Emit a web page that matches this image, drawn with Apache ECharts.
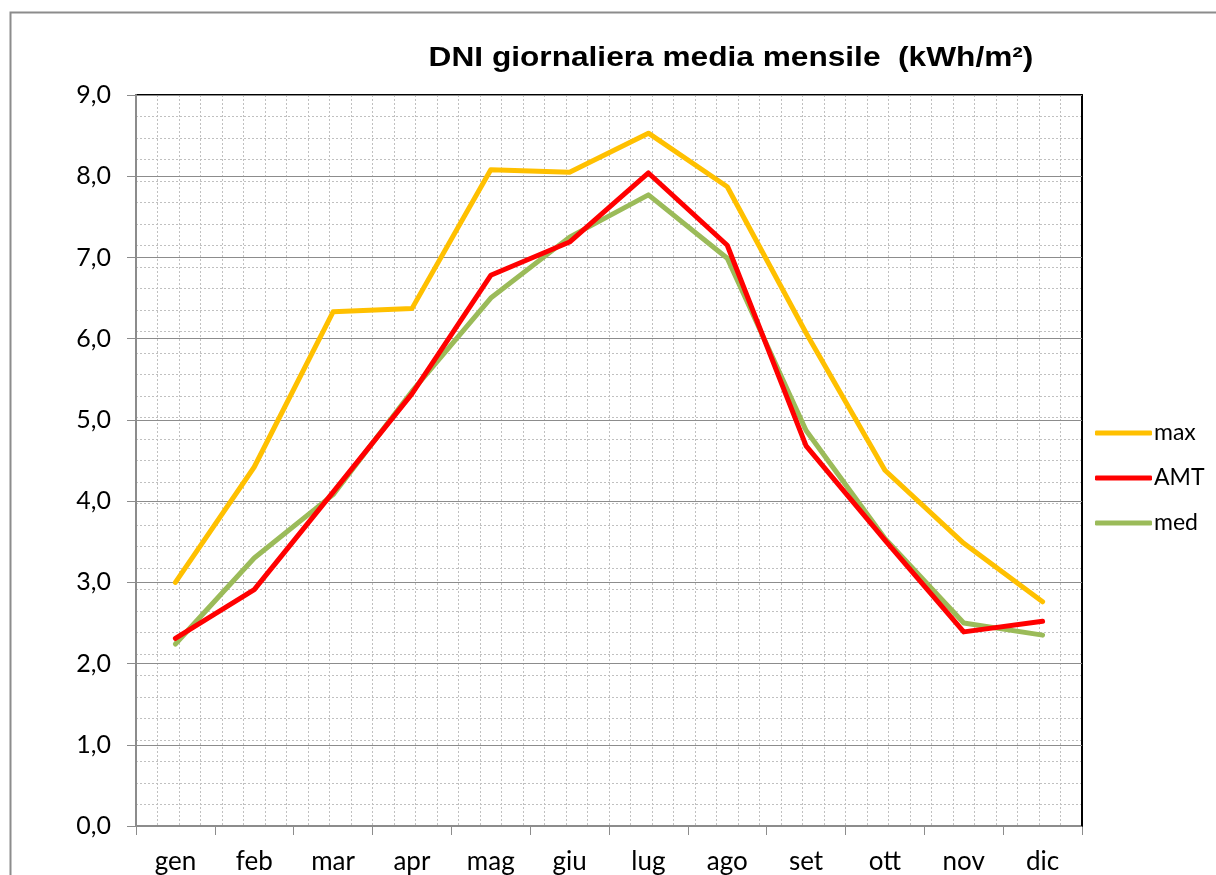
<!DOCTYPE html>
<html>
<head>
<meta charset="utf-8">
<script src="https://cdn.jsdelivr.net/npm/echarts@6/dist/echarts.min.js"></script>
<style>
  html, body { margin: 0; padding: 0; background: #fff; }
  #chart { width: 1216px; height: 875px; }
</style>
</head>
<body>
<div id="chart"></div>
<script>
// Months (Italian abbreviations)
const months = ['gen', 'feb', 'mar', 'apr', 'mag', 'giu', 'lug', 'ago', 'set', 'ott', 'nov', 'dic'];

// Daily DNI, monthly averages (kWh/m²)
const maxValues = [3.00, 4.42, 6.33, 6.37, 8.08, 8.05, 8.53, 7.87, 6.07, 4.38, 3.48, 2.76];
const amtValues = [2.31, 2.91, 4.11, 5.32, 6.78, 7.19, 8.04, 7.15, 4.68, 3.52, 2.39, 2.52];
const medValues = [2.24, 3.30, 4.08, 5.35, 6.50, 7.25, 7.77, 6.99, 4.87, 3.54, 2.50, 2.35];

// Value axis
const yMin = 0, yMax = 9, yStep = 1;

const seriesNames = ['max', 'AMT', 'med'];
const seriesColors = ['#ffc000', '#ff0000', '#9bbb59'];
const seriesData = [maxValues, amtValues, medValues];

const font = 'Lato, "Open Sans", sans-serif';
const dotted = { color: '#c0c0c0', width: 1, type: [2, 2] };

const chart = echarts.init(document.getElementById('chart'), null, { renderer: 'canvas' });

chart.setOption({
  animation: false,
  backgroundColor: '#ffffff',
  graphic: [{
    type: 'rect',
    left: 8, top: 10,
    shape: { width: 1400, height: 1000 },
    style: { fill: 'none', stroke: '#8c8c8c', lineWidth: 2 },
    z: -10, silent: true
  }, {
    // chart title, slightly widened
    type: 'text',
    x: 731, y: 58,
    scaleX: 1.13,
    style: {
      text: 'DNI giornaliera media mensile  (kWh/m²)',
      font: 'bold 28px "Liberation Sans", Arial, sans-serif',
      fill: '#000',
      align: 'center',
      verticalAlign: 'middle'
    },
    z: 20
  }],
  legend: {
    orient: 'vertical',
    left: 1095, top: 419,
    padding: 0,
    itemWidth: 57, itemHeight: 5, itemGap: 17,
    icon: 'roundRect',
    textStyle: { fontFamily: font, fontSize: 23, color: '#000', lineHeight: 28, padding: [0, 0, 0, -3] },
    data: seriesNames
  },
  grid: { left: 136, right: 134, top: 95, bottom: 49 },
  xAxis: [{
    type: 'category',
    data: months,
    boundaryGap: true,
    axisLine: { lineStyle: { color: '#8c8c8c', width: 2 } },
    axisTick: { show: true, length: 9, lineStyle: { color: '#8c8c8c', width: 1 } },
    axisLabel: { fontFamily: font, fontSize: 26, color: '#000', margin: 23 },
    splitLine: { show: false }
  }, {
    // dotted background pattern + top border
    type: 'value', position: 'top', min: 0, max: 44, interval: 1,
    axisLine: { show: true, onZero: false, lineStyle: { color: '#000', width: 2 } },
    axisTick: { show: false }, axisLabel: { show: false },
    splitLine: { show: true, lineStyle: dotted }
  }],
  yAxis: [{
    type: 'value',
    min: yMin, max: yMax, interval: yStep,
    axisLine: { show: true, lineStyle: { color: '#8c8c8c', width: 2 } },
    axisTick: { show: true, length: 9, lineStyle: { color: '#8c8c8c', width: 1 } },
    axisLabel: {
      fontFamily: font, fontSize: 25, color: '#000', margin: 25,
      formatter: v => v.toFixed(1).replace('.', ',')
    },
    splitLine: { show: true, lineStyle: { color: '#8c8c8c', width: 1 } },
    z: 3
  }, {
    // dotted background pattern + right border
    type: 'value', position: 'right', min: 0, max: 34, interval: 1,
    axisLine: { show: true, onZero: false, lineStyle: { color: '#000', width: 2 } },
    axisTick: { show: false }, axisLabel: { show: false },
    splitLine: { show: true, lineStyle: dotted },
    z: 1
  }],
  series: seriesNames.map((name, i) => ({
    name,
    type: 'line',
    xAxisIndex: 0, yAxisIndex: 0,
    data: seriesData[i],
    color: seriesColors[i],
    symbol: 'none',
    lineStyle: { width: 5, color: seriesColors[i], join: 'round', cap: 'round' },
    z: 5 + (seriesNames.length - i)
  }))
});
</script>
</body>
</html>
